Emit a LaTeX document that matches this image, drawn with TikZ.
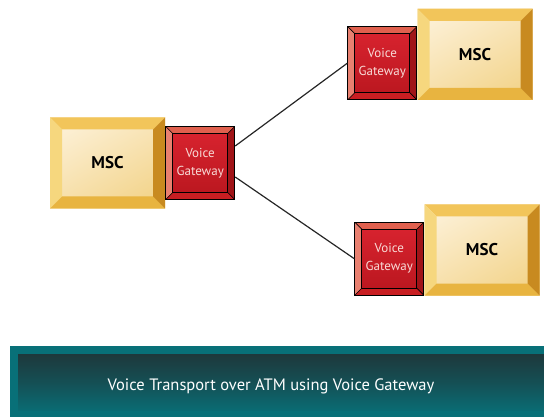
\documentclass[tikz,border=0pt]{standalone}
\usepackage{fontspec}
\setmainfont{PT Sans}
\usetikzlibrary{positioning}
\definecolor{mscpale}{HTML}{FCEFD3}
\definecolor{mscface}{HTML}{F3D58E}
\definecolor{msctop}{HTML}{F2C55A}
\definecolor{mscleft}{HTML}{F6D77E}
\definecolor{mscbottom}{HTML}{E8B440}
\definecolor{mscright}{HTML}{C88A20}
\definecolor{gwface}{HTML}{DA2430}
\definecolor{gwdeep}{HTML}{B8161E}
\definecolor{gwtop}{HTML}{E0604E}
\definecolor{gwleft}{HTML}{E88070}
\definecolor{gwbottom}{HTML}{C81E22}
\definecolor{gwright}{HTML}{A01418}
\definecolor{gwtext}{HTML}{F8DAD6}
\definecolor{bandteal}{HTML}{087078}
\definecolor{banddark}{HTML}{1F3538}
\newcommand{\bevelsides}[5]{%
  \coordinate (bnw) at (path picture bounding box.north west);
  \coordinate (bne) at (path picture bounding box.north east);
  \coordinate (bsw) at (path picture bounding box.south west);
  \coordinate (bse) at (path picture bounding box.south east);
  \coordinate (inw) at ([shift={(#1,-#1)}]bnw);
  \coordinate (ine) at ([shift={(-#1,-#1)}]bne);
  \coordinate (isw) at ([shift={(#1,#1)}]bsw);
  \coordinate (ise) at ([shift={(-#1,#1)}]bse);
  \fill[#2] (bnw) -- (bne) -- (ine) -- (inw) -- cycle;
  \fill[#3] (bnw) -- (bsw) -- (isw) -- (inw) -- cycle;
  \fill[#4] (bsw) -- (bse) -- (ise) -- (isw) -- cycle;
  \fill[#5] (bne) -- (bse) -- (ise) -- (ine) -- cycle;
}
\tikzstyle{mscbox} = [rectangle, minimum width=115pt, minimum height=91pt, inner sep=0pt,
    top color=mscpale, bottom color=mscface, shading angle=30,
    font=\bfseries\fontsize{17}{20}\selectfont,
    path picture={\bevelsides{12pt}{msctop}{mscleft}{mscbottom}{mscright}}]
\tikzstyle{gatebox} = [rectangle, draw=black, line width=1pt, minimum width=69pt, minimum height=73pt,
    inner sep=0pt, top color=gwface, bottom color=gwdeep, text=gwtext, align=center,
    font=\fontsize{13}{18}\selectfont,
    path picture={\bevelsides{7pt}{gwtop}{gwleft}{gwbottom}{gwright}
        \draw[black, line width=0.8pt] (inw) rectangle (ise);
        \draw[black, line width=0.6pt] (bnw) -- (inw) (bne) -- (ine) (bsw) -- (isw) (bse) -- (ise);}]
\tikzstyle{link} = [draw=black!85, line width=1.2pt]
\tikzstyle{band} = [rectangle, draw=bandteal, line width=8pt, minimum width=546pt, minimum height=65pt,
    top color=banddark, bottom color=bandteal, middle color=banddark!55!bandteal]
\tikzstyle{bandtext} = [text=white, font=\fontsize{16.5}{19}\selectfont]
\begin{document}
\begin{tikzpicture}[x=1pt, y=-1pt]
    \clip (0,0) rectangle (544,417);
    \node [mscbox] (msc1) at (107.5,163) {MSC};
    \node [gatebox, right=0pt of msc1] (gw1) {Voice\\Gateway};
    \node [mscbox] (msc2) at (475,54.5) {MSC};
    \node [gatebox, anchor=south east] (gw2) at (msc2.south west) {Voice\\Gateway};
    \node [mscbox] (msc3) at (482,250) {MSC};
    \node [gatebox, anchor=south east] (gw3) at (msc3.south west) {Voice\\Gateway};
    \draw [link] ([yshift=17pt]gw1.east) -- (gw2.west);
    \draw [link] ([yshift=-14pt]gw1.east) -- (gw3.west);
    \node [band] (band) at (287,382.5) {};
    \node [bandtext] (caption) at (271,386) {Voice Transport over ATM using Voice Gateway};
\end{tikzpicture}
\end{document}
